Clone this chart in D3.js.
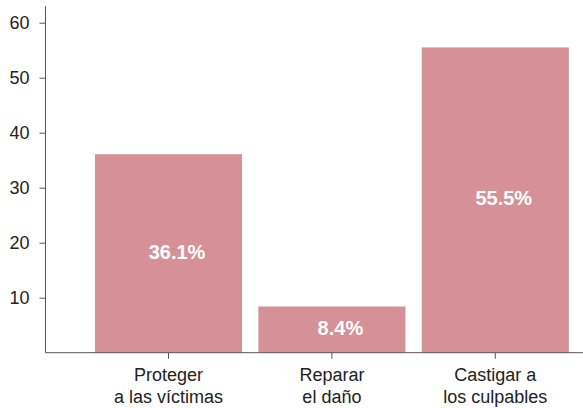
<!DOCTYPE html>
<html><head><meta charset="utf-8">
<script src="https://cdn.jsdelivr.net/npm/d3@7"></script>
<style>body{margin:0;background:#fff}</style>
</head><body>
<svg id="c" width="583" height="408"></svg>
<script>
const categories = [["Proteger","a las víctimas"],["Reparar","el daño"],["Castigar a","los culpables"]];
const values = [36.1, 8.4, 55.5];
const yTicks = [10,20,30,40,50,60];

const svg = d3.select("#c");
const font = "'Liberation Sans', Arial, Helvetica, sans-serif";
const y = d3.scaleLinear().domain([0,63]).range([352.7, 6.2]);
const x = d3.scaleBand().domain(d3.range(categories.length)).range([86.8, 577]).paddingInner(0.1).paddingOuter(0.05);

svg.selectAll("rect.bar").data(values).join("rect")
  .attr("class","bar")
  .attr("x",(d,i)=>x(i)).attr("width",x.bandwidth())
  .attr("y",d=>y(d)).attr("height",d=>y(0)-y(d))
  .attr("fill","#d69097");

svg.selectAll("text.val").data(values).join("text")
  .attr("class","val")
  .attr("x",(d,i)=>x(i)+x.bandwidth()/2+8.5)
  .attr("y",d=>(y(d)+y(0))/2)
  .attr("dy","0.27em")
  .attr("text-anchor","middle")
  .attr("fill","#fff").attr("font-weight","bold")
  .attr("font-family",font).attr("font-size",20)
  .text(d=>d.toFixed(1)+"%");

// y axis
const ya = svg.append("g").attr("transform","translate(45.5,0)")
  .call(d3.axisLeft(y).tickValues(yTicks).tickSize(6).tickPadding(10).tickSizeOuter(0));
ya.select(".domain").attr("stroke","#555").attr("d","M0,"+y(63)+"V"+y(0));
ya.selectAll(".tick line").attr("stroke","#555");
ya.selectAll("text").attr("font-family",font).attr("font-size",18).attr("fill","#222");

// x axis
const xa = svg.append("g").attr("transform","translate(0,"+y(0)+")")
  .call(d3.axisBottom(x).tickSize(6).tickSizeOuter(0).tickFormat(""));
xa.select(".domain").attr("stroke","#555").attr("d","M45.5,0H583");
xa.selectAll(".tick line").attr("stroke","#555");
xa.selectAll(".tick").each(function(d){
  const t = d3.select(this).append("text")
    .attr("text-anchor","middle").attr("fill","#222")
    .attr("font-family",font).attr("font-size",18);
  categories[d].forEach((line,k)=>{
    t.append("tspan").attr("x",0).attr("y",28+22*k).text(line);
  });
});
</script>
</body></html>
